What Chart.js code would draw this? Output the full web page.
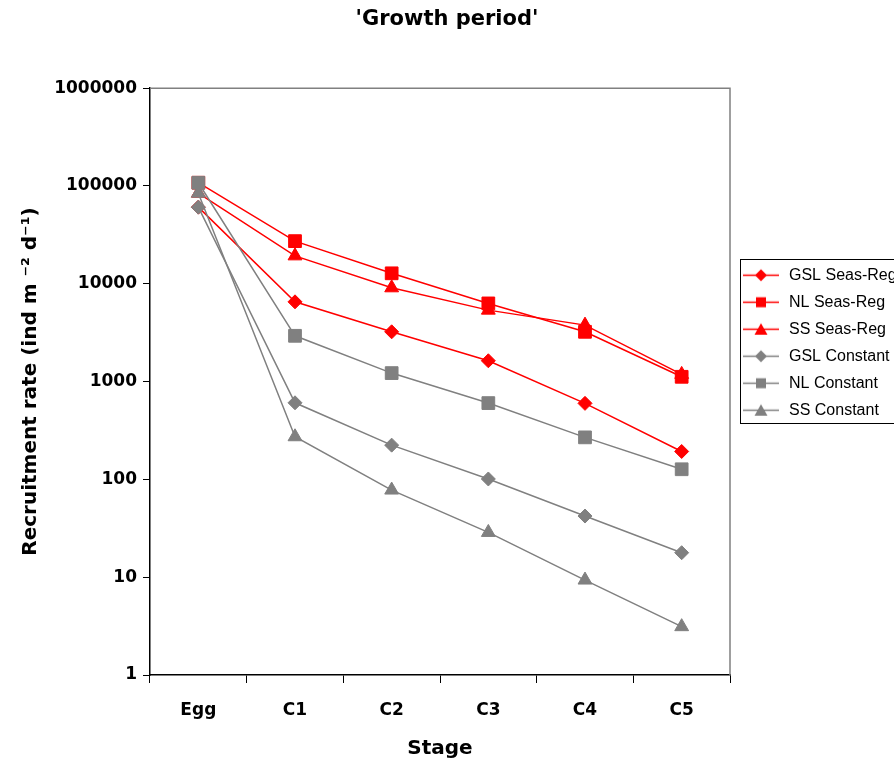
<!DOCTYPE html>
<html>
<head>
<meta charset="utf-8">
<script src="https://cdn.jsdelivr.net/npm/chart.js@4/dist/chart.umd.min.js"></script>
<style>
  html, body { margin: 0; padding: 0; background: #fff; }
  #wrap { width: 894px; height: 763px; }
</style>
</head>
<body>
<div id="wrap"><canvas id="grafico"></canvas></div>
<script>
// Datos
const stages = ["Egg", "C1", "C2", "C3", "C4", "C5"];
const gslSeasReg = [60800, 6540, 3230, 1633, 599, 193];
const nlSeasReg = [108000, 27300, 12800, 6300, 3230, 1120];
const ssSeasReg = [84500, 19300, 9100, 5380, 3780, 1185];
const gslConstant = [60800, 607, 224, 101, 42.2, 17.8];
const nlConstant = [108000, 2940, 1222, 603, 269, 127];
const ssConstant = [84500, 273, 77.8, 28.7, 9.35, 3.12];
const yTicks = [1, 10, 100, 1000, 10000, 100000, 1000000];

const rojo = "#ff0000";
const gris = "#808080";

// Iconos de la leyenda: linea con marcador
function iconoLeyenda(color, forma) {
  const c = document.createElement("canvas");
  c.width = 36;
  c.height = 15;
  const ctx = c.getContext("2d");
  ctx.strokeStyle = color;
  ctx.fillStyle = color;
  ctx.lineWidth = 1.5;
  ctx.beginPath();
  ctx.moveTo(0, 7.5);
  ctx.lineTo(36, 7.5);
  ctx.stroke();
  ctx.beginPath();
  if (forma === "rectRot") {
    ctx.moveTo(18, 1.5); ctx.lineTo(24, 7.5); ctx.lineTo(18, 13.5); ctx.lineTo(12, 7.5);
  } else if (forma === "rect") {
    ctx.rect(13, 2.5, 10, 10);
  } else {
    ctx.moveTo(18, 1.5); ctx.lineTo(24.5, 13); ctx.lineTo(11.5, 13);
  }
  ctx.closePath();
  ctx.fill();
  return c;
}

function serie(label, data, color, forma, radio, orden) {
  return {
    label: label,
    data: data,
    borderColor: color,
    backgroundColor: color,
    borderWidth: 1.5,
    pointStyle: forma,
    pointRadius: radio,
    pointHoverRadius: radio,
    pointBorderWidth: 1,
    pointBackgroundColor: color,
    pointBorderColor: color,
    tension: 0,
    order: orden,
    icono: iconoLeyenda(color, forma)
  };
}

const datasets = [
  serie("GSL Seas-Reg", gslSeasReg, rojo, "rectRot", 7, 1),
  serie("NL Seas-Reg", nlSeasReg, rojo, "rect", 9, 1),
  serie("SS Seas-Reg", ssSeasReg, rojo, "triangle", 8, 1),
  serie("GSL Constant", gslConstant, gris, "rectRot", 7, 0),
  serie("NL Constant", nlConstant, gris, "rect", 9, 0),
  serie("SS Constant", ssConstant, gris, "triangle", 8, 0)
];

// Borde gris del area de trazado (arriba y derecha) y marco de la leyenda
const bordes = {
  id: "bordes",
  beforeDatasetsDraw(chart) {
    const a = chart.chartArea;
    const ctx = chart.ctx;
    ctx.save();
    ctx.strokeStyle = gris;
    ctx.lineWidth = 1.5;
    ctx.beginPath();
    ctx.moveTo(a.left, a.top);
    ctx.lineTo(a.right, a.top);
    ctx.lineTo(a.right, a.bottom);
    ctx.stroke();
    ctx.restore();
  },
  afterDraw(chart) {
    const cajas = chart.legend.legendHitBoxes;
    if (!cajas || !cajas.length) return;
    const ctx = chart.ctx;
    const top = cajas[0].top - 8;
    const bottom = cajas[cajas.length - 1].top + cajas[cajas.length - 1].height + 5;
    ctx.save();
    ctx.strokeStyle = "#000";
    ctx.lineWidth = 1;
    ctx.strokeRect(740.5, Math.round(top) + 0.5, 200, Math.round(bottom - top));
    ctx.restore();
  }
};

const fuenteEje = { family: "'DejaVu Sans', sans-serif", size: 17, weight: "bold" };

new Chart(document.getElementById("grafico"), {
  type: "line",
  data: { labels: stages, datasets: datasets },
  plugins: [bordes],
  options: {
    responsive: true,
    maintainAspectRatio: false,
    animation: false,
    layout: { padding: 0 },
    plugins: {
      title: {
        display: true,
        text: "'Growth period'",
        color: "#000",
        font: { family: "'DejaVu Sans', sans-serif", size: 21, weight: "bold" },
        padding: { top: 7, bottom: 56 }
      },
      legend: {
        position: "right",
        align: "start",
        fullSize: false,
        maxWidth: 164,
        title: { display: true, text: "", font: { size: 1, lineHeight: 1 }, padding: { top: 167, bottom: 0 } },
        labels: {
          usePointStyle: true,
          pointStyleWidth: 40,
          padding: 11,
          color: "#000",
          font: { family: "'Liberation Sans', Arial, sans-serif", size: 16 },
          sort: (a, b) => a.datasetIndex - b.datasetIndex,
          generateLabels(chart) {
            const items = Chart.defaults.plugins.legend.labels.generateLabels(chart);
            items.forEach(it => { it.pointStyle = chart.data.datasets[it.datasetIndex].icono; });
            return items;
          }
        }
      },
      tooltip: { enabled: false }
    },
    scales: {
      x: {
        type: "category",
        offset: true,
        afterFit(scale) { scale.height = 88; },
        grid: {
          offset: true,
          drawOnChartArea: false,
          drawTicks: true,
          tickLength: 8,
          color: "#000"
        },
        border: { color: "#000", width: 1.5 },
        ticks: { color: "#000", font: fuenteEje, padding: 17, maxRotation: 0 },
        title: {
          display: true,
          text: "Stage",
          color: "#000",
          font: { family: "'DejaVu Sans', sans-serif", size: 20, weight: "bold" },
          padding: { top: 0, bottom: 2 }
        }
      },
      y: {
        type: "logarithmic",
        min: 1,
        max: 1000000,
        afterFit(scale) { scale.width = 150; },
        afterBuildTicks(scale) { scale.ticks = yTicks.map(v => ({ value: v })); },
        grid: {
          drawOnChartArea: false,
          drawTicks: true,
          tickLength: 7,
          color: "#000"
        },
        border: { color: "#000", width: 1.5 },
        ticks: {
          color: "#000",
          font: fuenteEje,
          padding: 6,
          callback: (v) => String(v)
        },
        title: {
          display: true,
          text: "Recruitment rate (ind m ⁻² d⁻¹)",
          color: "#000",
          font: { family: "'DejaVu Sans', sans-serif", size: 20, weight: "bold" },
          padding: { top: 19, bottom: 0 }
        }
      }
    }
  }
});
</script>
</body>
</html>
